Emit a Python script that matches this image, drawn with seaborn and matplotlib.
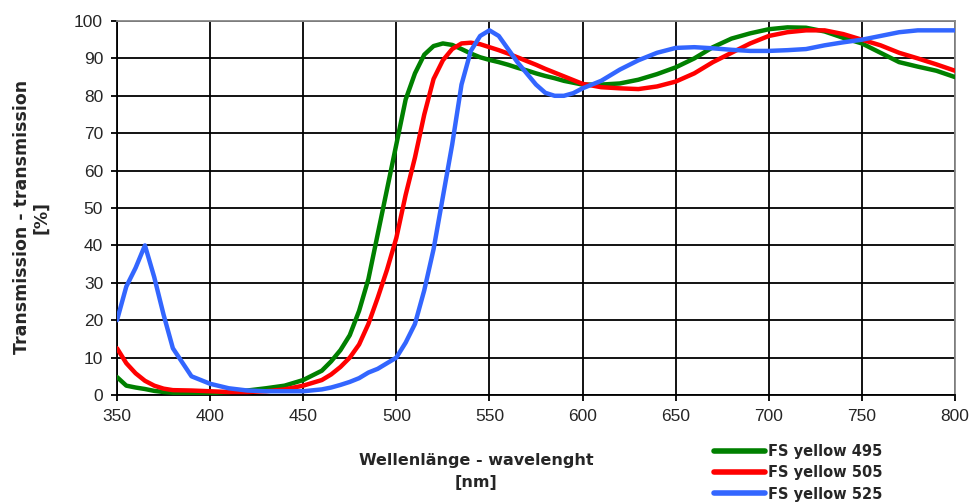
import numpy as np
import pandas as pd
import matplotlib
matplotlib.use("Agg")
import matplotlib.pyplot as plt
import seaborn as sns

# wavelength grid [nm]
wavelength = [350, 355, 360, 365, 370, 375, 380,
              390, 400, 410, 420, 430, 440, 450, 460,
              465, 470, 475, 480, 485, 490, 495, 500, 505, 510, 515, 520, 525, 530,
              535, 540, 545, 550, 555, 560, 565, 570, 575, 580, 585, 590, 595, 600,
              610, 620, 630, 640, 650, 660, 670, 680, 690, 700, 710, 720, 730, 740,
              750, 760, 770, 780, 790, 800]

# transmission [%]
fs_yellow_495 = [4.8, 2.5, 2.0, 1.6, 1.1, 0.8, 0.6,
                 0.5, 0.5, 0.8, 1.2, 1.8, 2.5, 4.0, 6.5,
                 9.0, 12.0, 16.0, 22.5, 31.0, 43.0, 55.0, 67.0, 79.0, 86.0, 91.0, 93.3, 94.0, 93.6,
                 92.5, 91.3, 90.3, 89.6, 89.0, 88.3, 87.5, 86.8, 86.0, 85.3, 84.7, 84.0, 83.5, 83.0,
                 83.0, 83.3, 84.3, 85.8, 87.6, 90.0, 93.0, 95.3, 96.7, 97.8, 98.3, 98.2, 97.2, 95.5,
                 94.0, 91.5, 89.0, 87.8, 86.7, 85.0]

fs_yellow_505 = [12.5, 8.5, 5.8, 3.8, 2.5, 1.7, 1.3,
                 1.2, 1.0, 0.8, 0.8, 1.0, 1.5, 2.5, 4.0,
                 5.5, 7.5, 10.0, 13.5, 19.0, 26.0, 33.5, 42.0, 53.5, 63.5, 75.0, 84.5, 89.5, 92.5,
                 94.0, 94.2, 93.8, 93.0, 92.2, 91.3, 90.3, 89.3, 88.3, 87.2, 86.2, 85.2, 84.2, 83.2,
                 82.3, 82.0, 81.8, 82.5, 83.8, 86.0, 89.0, 91.5, 94.0, 96.0, 97.0, 97.5, 97.5, 96.5,
                 95.0, 93.5, 91.5, 90.0, 88.4, 86.7]

fs_yellow_525 = [20.0, 29.0, 34.0, 40.0, 31.5, 21.5, 12.5,
                 5.0, 3.0, 1.8, 1.2, 1.0, 1.0, 1.0, 1.5,
                 2.0, 2.7, 3.5, 4.5, 6.0, 7.0, 8.5, 10.0, 14.0, 19.0, 28.0, 39.0, 53.0, 67.0,
                 83.0, 92.0, 96.0, 97.5, 96.0, 92.5, 89.0, 86.0, 83.0, 80.8, 80.0, 80.0, 80.7, 82.0,
                 84.0, 87.0, 89.5, 91.5, 92.8, 93.0, 92.7, 92.3, 92.0, 92.0, 92.2, 92.5, 93.5, 94.3,
                 95.0, 96.0, 97.0, 97.5, 97.5, 97.5]

series_names = ["FS yellow 495", "FS yellow 505", "FS yellow 525"]
series_colors = ["#008000", "#ff0000", "#3366ff"]

df = pd.DataFrame({
    "wavelength": wavelength * 3,
    "transmission": fs_yellow_495 + fs_yellow_505 + fs_yellow_525,
    "filter": np.repeat(series_names, len(wavelength)),
})

sns.set_style("white")
plt.rcParams["font.family"] = ["Liberation Sans", "DejaVu Sans"]

fig = plt.figure(figsize=(9.71, 5.04), dpi=100)
ax = fig.add_axes([117 / 971, 1 - 395 / 504, (955 - 117) / 971, (395 - 21) / 504])

sns.lineplot(data=df, x="wavelength", y="transmission", hue="filter",
             palette=dict(zip(series_names, series_colors)),
             linewidth=3.2, ax=ax, legend=False, zorder=3)

ax.set_xlim(350, 800)
ax.set_ylim(0, 100)
ax.set_xticks(np.arange(350, 801, 50))
ax.set_yticks(np.arange(0, 101, 10))
ax.grid(True, color="black", linewidth=1.3)
ax.tick_params(axis="both", direction="out", length=4, width=1.3, color="black",
               labelsize=12.5, pad=6, bottom=True, left=True)
for side, sp in ax.spines.items():
    sp.set_color("black" if side in ("left", "bottom") else "#888888")
    sp.set_linewidth(1.3)

ax.set_xlabel("Wellenlänge - wavelenght\n[nm]", family="DejaVu Sans", weight="bold",
              size=11.5, linespacing=1.6)
ax.xaxis.set_label_coords((476 - 117) / 838, -0.155)
ax.set_ylabel("Transmission - transmission\n[%]", family="DejaVu Sans", weight="bold",
              size=12.5, linespacing=1.05)
ax.yaxis.set_label_coords(-0.08, 0.475)

handles = [plt.Line2D([], [], color=c, linewidth=4) for c in series_colors]
fig.legend(handles, series_names, loc="upper left",
           bbox_to_anchor=(707 / 971, 1 - 437 / 504), frameon=False,
           prop=dict(family="DejaVu Sans", weight="bold", size=10.5),
           handlelength=3.5, handletextpad=0.15, labelspacing=0.42, borderpad=0)

fig.savefig("out.png", dpi=100)
